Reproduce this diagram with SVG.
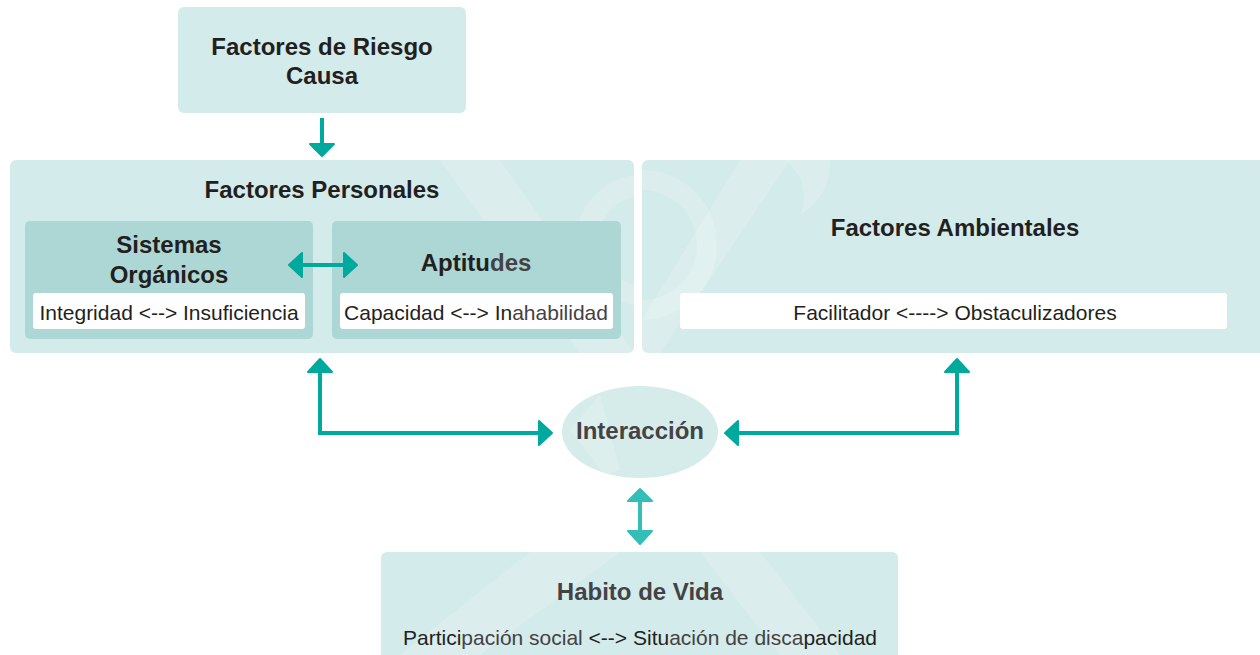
<svg xmlns="http://www.w3.org/2000/svg" width="1260" height="655" viewBox="0 0 1260 655">
<defs>
<style>
.box{fill:#d3ebea}
.inner{fill:#acd7d5}
.white{fill:#ffffff}
.wm{fill:#ffffff;opacity:0.18}
.t{font-family:"Liberation Sans",Arial,sans-serif;font-weight:bold;font-size:24px;fill:#231f20;text-anchor:middle}
.g{fill:#444244}
.s{font-family:"Liberation Sans",Arial,sans-serif;font-size:21px;fill:#231f20;text-anchor:middle}
.ln{stroke:#00a99d;stroke-width:4;fill:none}
.hd{fill:#00a99d;stroke:#00a99d;stroke-width:2;stroke-linejoin:round}
.ln2{stroke:#33bfb8;stroke-width:4;fill:none}
.hd2{fill:#33bfb8;stroke:#33bfb8;stroke-width:2;stroke-linejoin:round}
</style>
</defs>
<rect width="1260" height="655" fill="#ffffff"/>

<g id="riesgo">
<rect class="box" x="178" y="7" width="288" height="106" rx="6"/>
<text class="t" x="322" y="55">Factores de Riesgo</text>
<text class="t" x="322" y="84">Causa</text>
</g>

<g id="personales">
<rect class="box" x="10" y="160" width="624" height="193" rx="6"/>
<path class="wm" d="M440 160 L500 160 L634 353 L580 353 Z"/>
<path class="wm" d="M634 175 A70 70 0 0 0 575 240 A70 70 0 0 0 634 305 L634 285 A48 48 0 0 1 597 240 A48 48 0 0 1 634 197 Z"/>
<text class="t" x="322" y="198">Factores Personales</text>
</g>

<g id="sistemas">
<rect class="inner" x="25" y="221" width="288" height="118" rx="5"/>
<text class="t" x="169" y="253">Sistemas</text>
<text class="t" x="169" y="283">Orgánicos</text>
<rect class="white" x="33" y="293" width="272" height="36" rx="3"/>
<text class="s" x="169" y="320">Integridad &lt;--&gt; Insuficiencia</text>
</g>

<g id="aptitudes">
<rect class="inner" x="332" y="221" width="289" height="118" rx="5"/>
<text class="t" x="476" y="271">Aptitu<tspan class="g">des</tspan></text>
<rect class="white" x="340" y="293" width="273" height="36" rx="3"/>
<text class="s" x="476" y="320">Capacidad &lt;--&gt; In<tspan class="g">ahabilidad</tspan></text>
</g>

<g id="ambientales">
<rect class="box" x="642" y="160" width="630" height="193" rx="6"/>
<path class="wm" d="M740 160 L790 160 L660 353 L642 353 L642 320 Z"/>
<path class="wm" d="M642 170 A75 75 0 0 1 642 320 L642 300 A55 55 0 0 0 642 190 Z"/>
<path class="wm" d="M785 160 L830 160 A60 60 0 0 1 800 215 A45 45 0 0 0 785 160 Z"/>
<text class="t" x="955" y="236">Factores Ambientales</text>
<rect class="white" x="680" y="293" width="547" height="36" rx="3"/>
<text class="s" x="955" y="320">Facilitador &lt;----&gt; Obstaculizadores</text>
</g>

<g id="interaccion">
<ellipse cx="640" cy="432" rx="78" ry="46" fill="#d5ecea"/>
<path class="wm" d="M600 395 L620 470 L605 475 L570 430 Z"/>
<text class="t g" x="640" y="439">Interacción</text>
</g>

<g id="habito">
<rect class="box" x="381" y="552" width="517" height="110" rx="6"/>
<path class="wm" d="M530 552 L620 552 L480 655 L400 655 Z"/>
<path class="wm" d="M700 552 L760 552 L840 655 L780 655 Z"/>
<text class="t g" x="640" y="600">Habito de Vida</text>
<text class="s" x="640" y="645">Partici<tspan class="g">pación social </tspan>&lt;--&gt; Situ<tspan class="g">ación de disca</tspan>pacidad</text>
</g>

<g id="connectors">
<line class="ln" x1="322" y1="118" x2="322" y2="144"/>
<polygon class="hd" points="310,144 334,144 322,156"/>

<line class="ln" x1="302" y1="265" x2="344" y2="265"/>
<polygon class="hd" points="289,265 302,253 302,277"/>
<polygon class="hd" points="357,265 344,253 344,277"/>

<polyline class="ln" points="320,372 320,433 539,433"/>
<polygon class="hd" points="320,359 308,372 332,372"/>
<polygon class="hd" points="552,433 539,421 539,445"/>

<polyline class="ln" points="957,372 957,433 738,433"/>
<polygon class="hd" points="957,359 945,372 969,372"/>
<polygon class="hd" points="725,433 738,421 738,445"/>

<line class="ln2" x1="640" y1="501" x2="640" y2="531"/>
<polygon class="hd2" points="640,489 628,501 652,501"/>
<polygon class="hd2" points="640,544 628,531 652,531"/>
</g>
</svg>
